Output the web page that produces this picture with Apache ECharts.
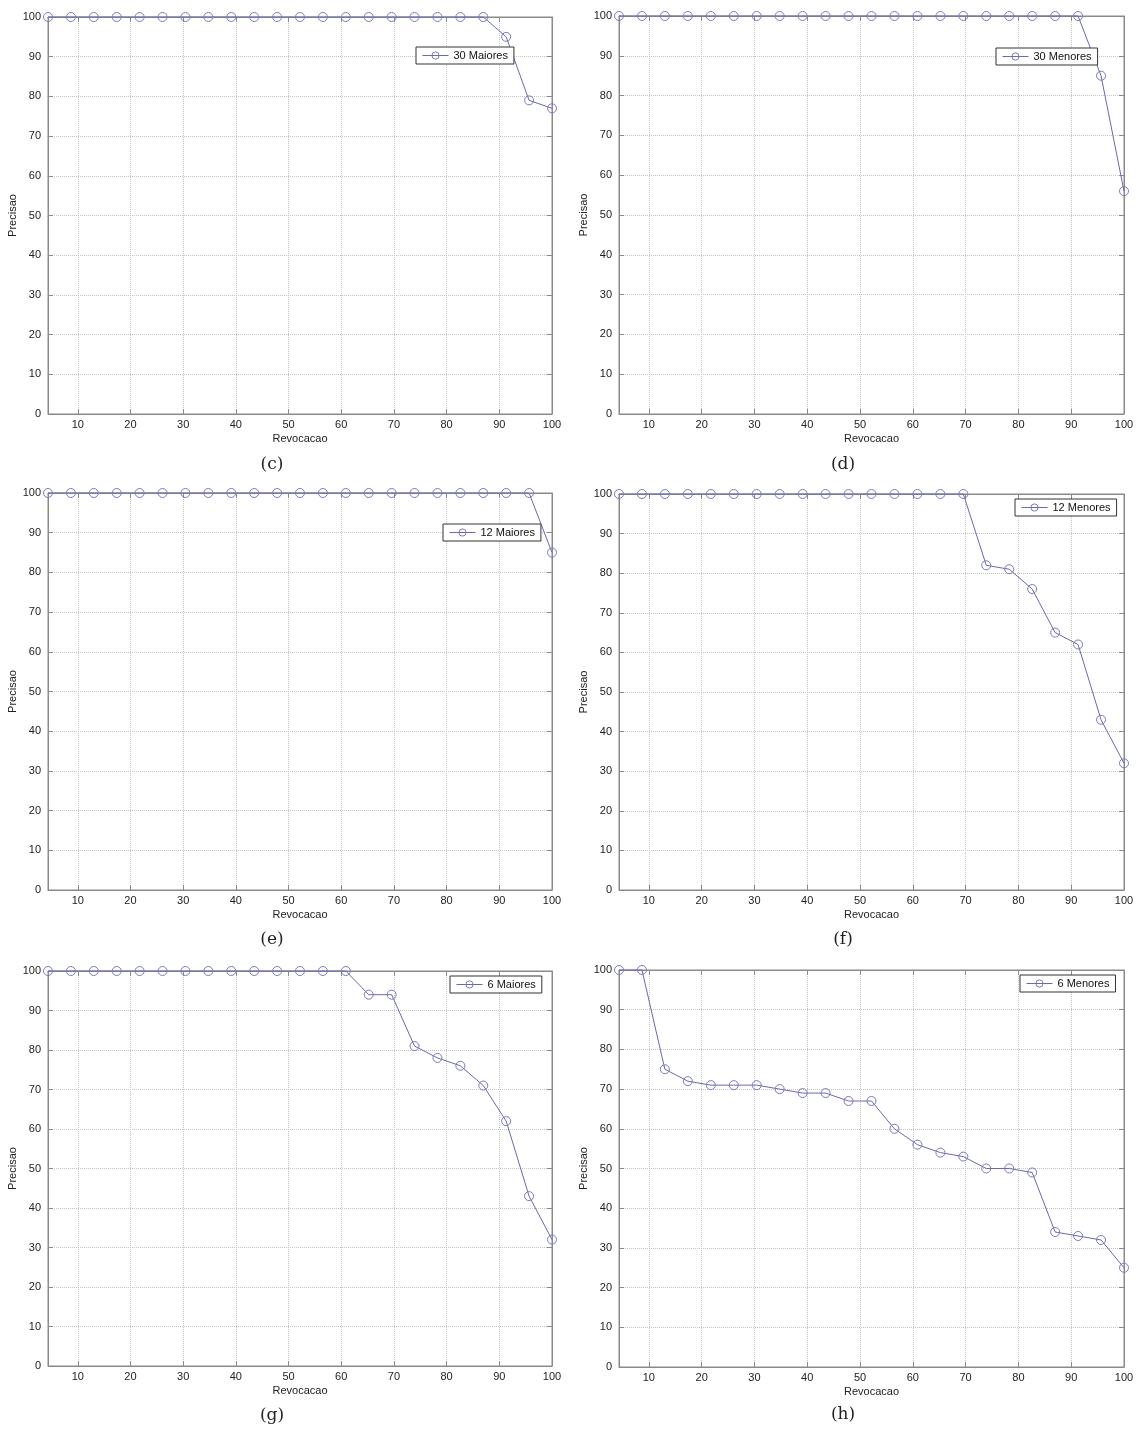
<!DOCTYPE html>
<html>
<head>
<meta charset="utf-8">
<script src="https://cdn.jsdelivr.net/npm/echarts@6/dist/echarts.min.js"></script>
<style>
html,body{margin:0;padding:0;background:#fff;}
#chart{width:1141px;height:1434px;}
</style>
</head>
<body>
<div id="chart"></div>
<script>
// Recall (Revocacao) values shared by all curves
var recall = [4.35, 8.7, 13.04, 17.39, 21.74, 26.09, 30.43, 34.78, 39.13, 43.48, 47.83, 52.17, 56.52, 60.87, 65.22, 69.57, 73.91, 78.26, 82.61, 86.96, 91.3, 95.65, 100];
var xTicks = [10, 20, 30, 40, 50, 60, 70, 80, 90, 100];
var yTicks = [0, 10, 20, 30, 40, 50, 60, 70, 80, 90, 100];

var p30Maiores = [100,100,100,100,100,100,100,100,100,100,100,100,100,100,100,100,100,100,100,100,95,79,77];
var p30Menores = [100,100,100,100,100,100,100,100,100,100,100,100,100,100,100,100,100,100,100,100,100,85,56];
var p12Maiores = [100,100,100,100,100,100,100,100,100,100,100,100,100,100,100,100,100,100,100,100,100,100,85];
var p12Menores = [100,100,100,100,100,100,100,100,100,100,100,100,100,100,100,100,82,81,76,65,62,43,32];
var p6Maiores  = [100,100,100,100,100,100,100,100,100,100,100,100,100,100,94,94,81,78,76,71,62,43,32];
var p6Menores  = [100,100,75,72,71,71,71,70,69,69,67,67,60,56,54,53,50,50,49,34,33,32,25];

var names = ['30 Maiores', '30 Menores', '12 Maiores', '12 Menores', '6 Maiores', '6 Menores'];
var captions = ['(c)', '(d)', '(e)', '(f)', '(g)', '(h)'];
var seriesData = [p30Maiores, p30Menores, p12Maiores, p12Menores, p6Maiores, p6Menores];

// layout
var grids = [
  {left: 48, top: 17, width: 504, height: 397},
  {left: 619, top: 16, width: 505, height: 398},
  {left: 48, top: 493, width: 504, height: 397},
  {left: 619, top: 494, width: 505, height: 396},
  {left: 48, top: 971, width: 504, height: 395},
  {left: 619, top: 970, width: 505, height: 397}
];
var legendPos = [
  {left: 416, top: 47},
  {left: 996, top: 48},
  {left: 443, top: 524},
  {left: 1015, top: 499},
  {left: 450, top: 976},
  {left: 1020, top: 975}
];
var captionPos = [
  {x: 272, y: 465}, {x: 843, y: 465},
  {x: 272, y: 940}, {x: 843, y: 940},
  {x: 272, y: 1416}, {x: 843, y: 1415}
];

var lineColor = '#6a6aaa';
var markColor = '#7a7ac0';
var axisColor = '#8a8a8a';
var gridColor = '#c4c4c4';
var font = 'Liberation Sans, Arial, sans-serif';

var option = {
  animation: false,
  backgroundColor: '#fff',
  grid: [], xAxis: [], yAxis: [], series: [], legend: [], graphic: []
};

for (var i = 0; i < 6; i++) {
  var g = grids[i];
  option.grid.push({left: g.left, top: g.top, width: g.width, height: g.height,
    show: true, borderColor: axisColor, borderWidth: 1, backgroundColor: '#fff'});
  // bottom x axis
  option.xAxis.push({
    type: 'value', gridIndex: i, min: recall[0], max: 100, position: 'bottom',
    name: 'Revocacao', nameLocation: 'middle', nameGap: 19,
    nameTextStyle: {fontFamily: font, fontSize: 11, color: '#222'},
    axisLine: {show: true, onZero: false, lineStyle: {color: axisColor}},
    axisTick: {show: true, inside: true, length: 5, lineStyle: {color: axisColor}, customValues: xTicks},
    axisLabel: {customValues: xTicks, fontFamily: font, fontSize: 11, color: '#222', margin: 5},
    splitLine: {show: true, lineStyle: {color: gridColor, type: [1, 1], width: 1}}
  });
  // top mirror x axis
  option.xAxis.push({
    type: 'value', gridIndex: i, min: recall[0], max: 100, position: 'top',
    axisLine: {show: true, onZero: false, lineStyle: {color: axisColor}},
    axisTick: {show: true, inside: true, length: 5, lineStyle: {color: axisColor}, customValues: xTicks},
    axisLabel: {show: false, customValues: xTicks},
    splitLine: {show: false}
  });
  option.yAxis.push({
    type: 'value', gridIndex: i, min: 0, max: 100, interval: 10, position: 'left',
    name: 'Precisao', nameLocation: 'middle', nameGap: 27, nameRotate: 90,
    nameTextStyle: {fontFamily: font, fontSize: 11, color: '#222'},
    axisLine: {show: true, onZero: false, lineStyle: {color: axisColor}},
    axisTick: {show: true, inside: true, length: 5, lineStyle: {color: axisColor}},
    axisLabel: {fontFamily: font, fontSize: 11, color: '#222', margin: 7},
    splitLine: {show: true, lineStyle: {color: gridColor, type: [1, 1], width: 1}}
  });
  option.yAxis.push({
    type: 'value', gridIndex: i, min: 0, max: 100, interval: 10, position: 'right',
    axisLine: {show: true, onZero: false, lineStyle: {color: axisColor}},
    axisTick: {show: true, inside: true, length: 5, lineStyle: {color: axisColor}},
    axisLabel: {show: false},
    splitLine: {show: false}
  });
  var pts = [];
  for (var k = 0; k < recall.length; k++) pts.push([recall[k], seriesData[i][k]]);
  option.series.push({
    type: 'line', name: names[i], xAxisIndex: 2 * i, yAxisIndex: 2 * i,
    data: pts, symbol: 'circle', symbolSize: 9, clip: false,
    lineStyle: {color: lineColor, width: 1},
    itemStyle: {color: 'rgba(255,255,255,0)', borderColor: markColor, borderWidth: 1},
    emphasis: {disabled: true}
  });
  option.legend.push({
    data: [names[i]], left: legendPos[i].left, top: legendPos[i].top,
    orient: 'vertical', backgroundColor: '#fff', borderColor: '#333', borderWidth: 1,
    borderRadius: 0, padding: [3, 6, 3, 6], itemWidth: 26, itemHeight: 9, itemGap: 0,
    selectedMode: false,
    lineStyle: {width: 1},
    itemStyle: {borderWidth: 1},
    textStyle: {fontFamily: font, fontSize: 11, color: '#111'}
  });
  option.graphic.push({
    type: 'text', x: captionPos[i].x, y: captionPos[i].y,
    style: {text: captions[i], font: '17px "DejaVu Serif", "Liberation Serif", serif',
      fill: '#222', align: 'center', verticalAlign: 'middle'}
  });
}

var chart = echarts.init(document.getElementById('chart'), null, {renderer: 'canvas'});
chart.setOption(option);
</script>
</body>
</html>
